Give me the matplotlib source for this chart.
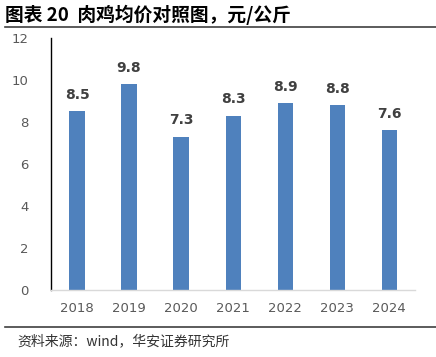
import matplotlib
matplotlib.use("Agg")
import matplotlib.pyplot as plt
from matplotlib.lines import Line2D

plt.rcParams['font.family'] = ['Noto Sans CJK SC', 'DejaVu Sans']

years = ["2018", "2019", "2020", "2021", "2022", "2023", "2024"]
prices = [8.5, 9.8, 7.3, 8.3, 8.9, 8.8, 7.6]
yticks = [0, 2, 4, 6, 8, 10, 12]

fig = plt.figure(figsize=(4.36, 3.57), dpi=100)
ax = fig.add_axes([0.117, 0.188, 0.835, 0.706])

x = range(len(years))
bars = ax.bar(x, prices, width=0.29, color="#4F81BD")
for xi, v in zip(x, prices):
    ax.text(xi, v + 0.45, f"{v:.1f}", ha="center", va="bottom",
            fontsize=10, fontweight="bold", color="#404040", family="DejaVu Sans")

ax.set_xlim(-0.5, len(years) - 0.5)
ax.set_ylim(0, 12)
ax.set_yticks(yticks)
ax.set_xticks(list(x))
ax.set_xticklabels(years)
ax.tick_params(axis="both", length=0, colors="#595959", labelsize=9.5)
ax.tick_params(axis="x", pad=9)
ax.tick_params(axis="y", pad=16)
for lbl in ax.get_xticklabels() + ax.get_yticklabels():
    lbl.set_family("DejaVu Sans")

for s in ["top", "right"]:
    ax.spines[s].set_visible(False)
ax.spines["left"].set_color("black")
ax.spines["left"].set_linewidth(1.0)
ax.spines["bottom"].set_color("#D9D9D9")
ax.spines["bottom"].set_linewidth(1.0)

fig.text(0.012, 0.958, "图表 20  肉鸡均价对照图，元/公斤", fontsize=13.5,
         fontweight="bold", ha="left", va="center", color="black")
fig.add_artist(Line2D([0.012, 1.0], [0.925, 0.925], color="#404040", lw=1.2))
fig.add_artist(Line2D([0.012, 1.0], [0.084, 0.084], color="#404040", lw=1.2))
fig.text(0.039, 0.045, "资料来源：wind，华安证券研究所", fontsize=10,
         ha="left", va="center", color="#333333")

fig.savefig("out.png", dpi=100)
